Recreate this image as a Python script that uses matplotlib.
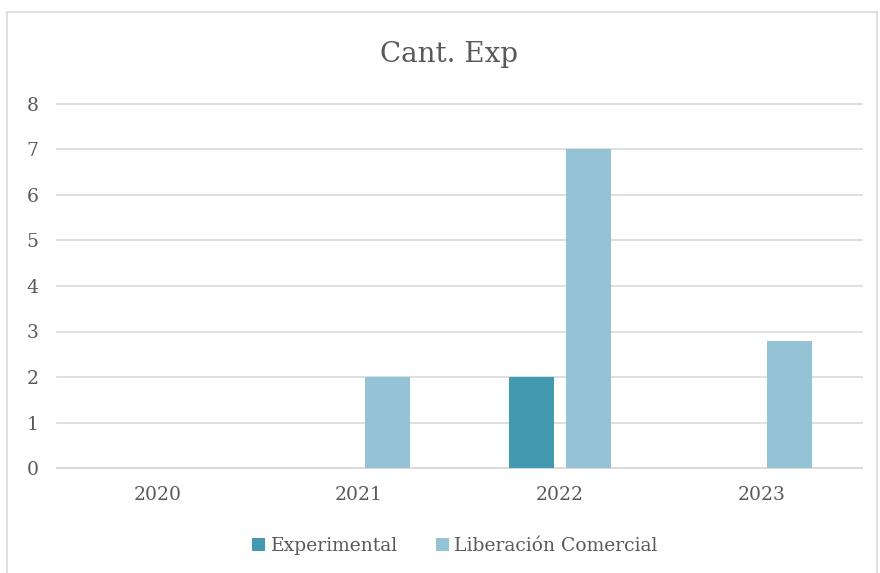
import matplotlib
matplotlib.use("Agg")
import matplotlib.pyplot as plt
import numpy as np
from matplotlib.patches import Rectangle

categories = ["2020", "2021", "2022", "2023"]
experimental = [0, 0, 2, 0]
liberacion = [0, 2, 7, 2.8]
series_names = ["Experimental", "Liberación Comercial"]
colors = ["#4299B0", "#93C3D5"]
text_color = "#595959"

plt.rcParams['font.family'] = ['DejaVu Serif']

fig = plt.figure(figsize=(8.8, 5.73), dpi=100)
ax = fig.add_axes([57/880, 1-468/573, (862-57)/880, (468-104)/573])

x = np.arange(len(categories))
w = 0.224
off = 0.142
ax.bar(x - off, experimental, width=w, color=colors[0], label=series_names[0], zorder=3)
ax.bar(x + off, liberacion, width=w, color=colors[1], label=series_names[1], zorder=3)

ax.set_xlim(-0.5, 3.5)
ax.set_ylim(0, 8)
ax.set_yticks(range(0, 9))
ax.set_xticks(x)
ax.set_xticklabels(categories)
ax.yaxis.grid(True, color="#D9D9D9", linewidth=1.2, zorder=0)
for gl in ax.get_ygridlines():
    gl.set_clip_on(False)
ax.set_axisbelow(True)
for s in ["top", "right", "left"]:
    ax.spines[s].set_visible(False)
ax.spines["bottom"].set_color("#D9D9D9")
ax.spines["bottom"].set_linewidth(1.2)
ax.tick_params(axis="both", length=0, colors=text_color, labelsize=13.5)
ax.tick_params(axis="x", pad=13)
ax.tick_params(axis="y", pad=22)
for lbl in ax.get_yticklabels():
    lbl.set_horizontalalignment("left")

fig.text(449/880, 1-55/573, "Cant. Exp", ha="center", va="center", fontsize=20, color=text_color)

leg = fig.legend(loc="center", bbox_to_anchor=(455/880, 1-546/573), ncol=2, frameon=False,
                 fontsize=13.5, handlelength=0.7, handleheight=0.7, handletextpad=0.3,
                 columnspacing=2.0, labelcolor=text_color)

fig.patches.append(Rectangle((7/880, -0.01), (877-7)/880, 1-12/573 + 0.01, transform=fig.transFigure,
                             fill=False, edgecolor="#D9D9D9", linewidth=1.2))

fig.savefig("out.png", dpi=100)
